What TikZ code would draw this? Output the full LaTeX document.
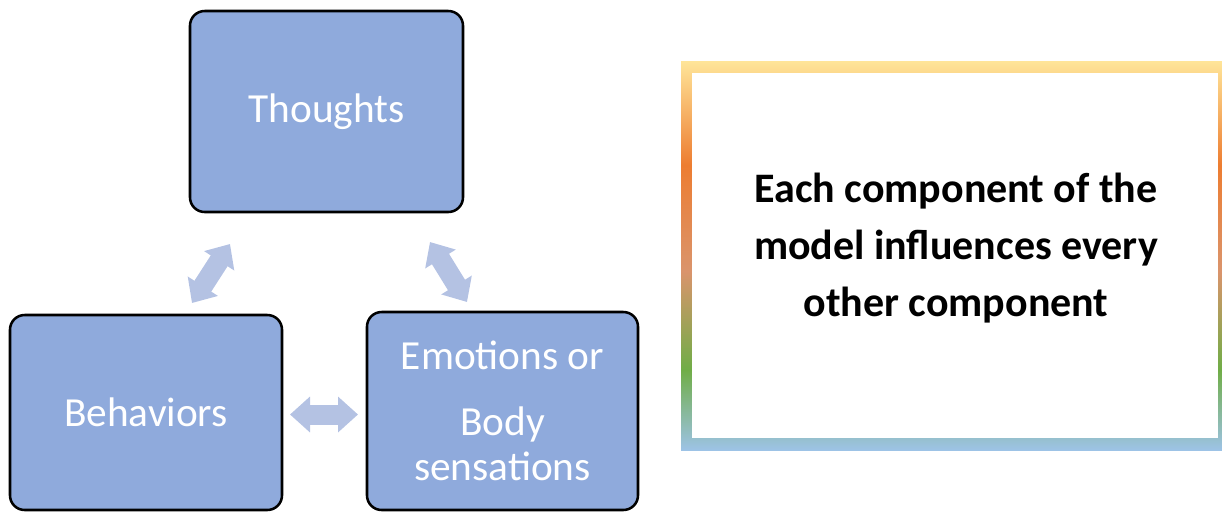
\documentclass[tikz,border=0pt]{standalone}
\usepackage{fontspec}
\setmainfont{Carlito}
\usetikzlibrary{arrows.meta}

\definecolor{boxblue}{RGB}{143,170,220}
\definecolor{arrowblue}{RGB}{180,194,227}
\definecolor{rimyellow}{RGB}{255,229,153}
\definecolor{rimorange}{RGB}{237,125,49}
\definecolor{rimrose}{RGB}{218,148,108}
\definecolor{rimgreen}{RGB}{112,173,71}
\definecolor{rimblue}{RGB}{157,195,230}

\pgfdeclareverticalshading{rimfade}{100bp}{color(0bp)=(rimblue); color(25bp)=(rimblue); color(35.3bp)=(rimgreen); color(48bp)=(rimrose); color(61.6bp)=(rimorange); color(75bp)=(rimyellow); color(100bp)=(rimyellow)}

\tikzset{every picture/.style={line width=0.75pt}}

\begin{document}
\begin{tikzpicture}[x=0.75pt,y=0.75pt,yscale=-1,xscale=1,
    compbox/.style={draw=black, line width=1.9pt, fill=boxblue, rounded corners=11pt, text=white, font=\fontsize{31}{34}\selectfont, align=center, inner sep=0pt},
    twoway/.style={draw=arrowblue, line width=15pt, {Triangle[width=26pt,length=15pt]}-{Triangle[width=26pt,length=15pt]}}]
\useasboundingbox (0,0) rectangle (1222,512);

%Rounded Rect
\node (thoughts) [compbox, minimum width=204.75pt, minimum height=150.75pt] at (326.5,111.5) {Thoughts};
%Rounded Rect
\node (behaviors) [compbox, minimum width=204pt, minimum height=146.25pt] at (146,412.5) {Behaviors};
%Rounded Rect
\node (emotions) [compbox, minimum width=203.25pt, minimum height=148.5pt] at (502.5,411) {Emotions or\\[15pt]Body\\sensations};

%Arrow ends
\coordinate (tbA) at (192,303);
\coordinate (tbB) at (230,244);
\coordinate (teA) at (430,242);
\coordinate (teB) at (467,302);
\coordinate (beA) at (290,414.5);
\coordinate (beB) at (358,414.5);

%Double Arrows
\draw [twoway] (tbA) -- (tbB) ;
\draw [twoway] (teA) -- (teB) ;
\draw [twoway] (beA) -- (beB) ;

%Shape: Frame
\shade [shading=rimfade] (681,61) rectangle (1229,450) ;
\fill [white] (692,73) rectangle (1218,438) ;

% Text Node
\node (note) [align=center, font=\fontsize{31.5}{42.75}\selectfont\bfseries, inner sep=0pt] at (956,248.5) {Each component of the\\model influences every\\other component};

\end{tikzpicture}
\end{document}
